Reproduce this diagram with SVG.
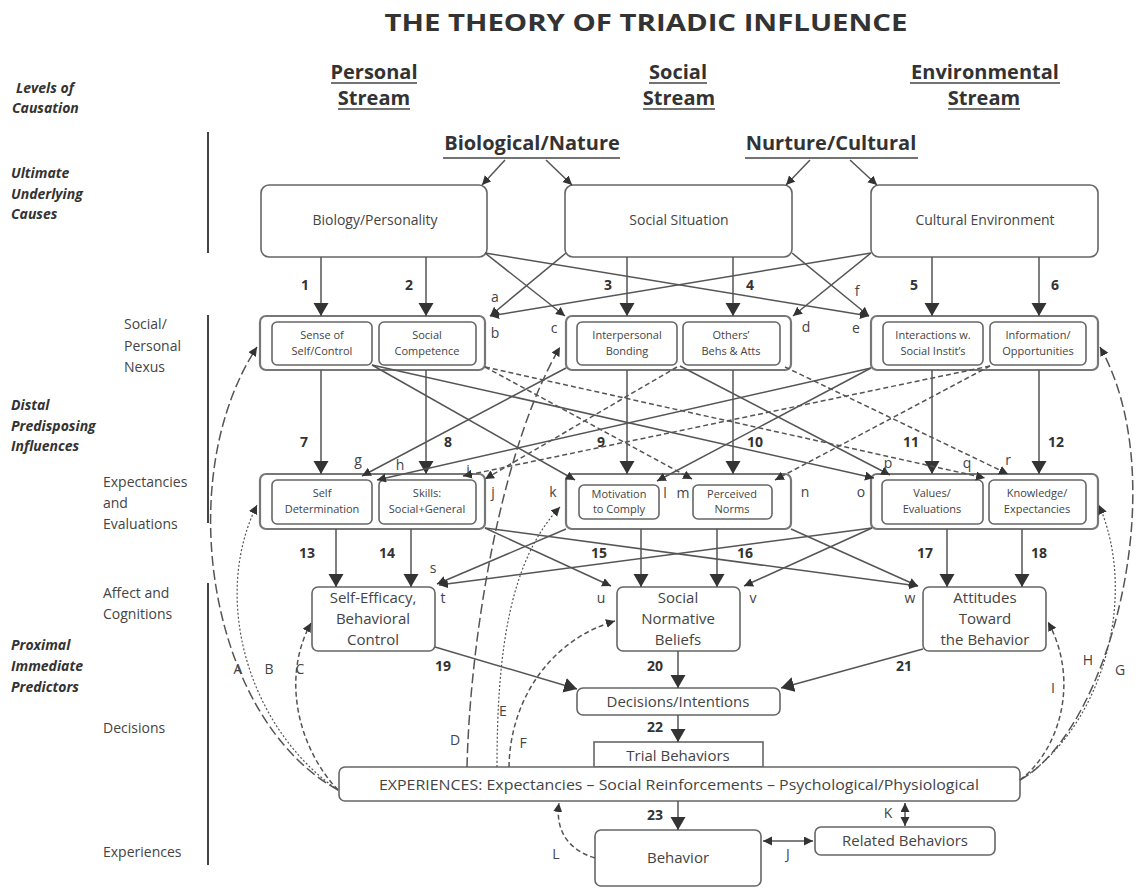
<svg xmlns="http://www.w3.org/2000/svg" width="1138" height="888" viewBox="0 0 1138 888">
<style>
text{font-family:"Open Sans","Liberation Sans",sans-serif;fill:#333}
.lab{font-size:14px;font-weight:bold;font-style:italic}
.lvl{font-size:14px;fill:#444}
.hdr{font-size:20px;font-weight:bold;text-anchor:middle}
.ul{stroke:#444;stroke-width:1.3}
.box{fill:#fff;stroke:#666;stroke-width:1.6}
.obox{fill:#fff;stroke:#777;stroke-width:2.2}
.bt{font-size:14px;text-anchor:middle;fill:#444}
.pt{font-size:15px;text-anchor:middle;fill:#444}
.st{font-size:11px;text-anchor:middle;fill:#444}
.num{font-size:14px;font-weight:bold;text-anchor:middle}
.let{font-size:14px;text-anchor:middle;fill:#444}
.ln{stroke:#555;stroke-width:1.5;fill:none}
.main{marker-end:url(#big)}
.x{marker-end:url(#sm)}
.dash{stroke-dasharray:5 3}
.ldash{stroke-dasharray:10 4}
.dot{stroke-dasharray:2 2;stroke-width:1.2}
.vb{stroke:#444;stroke-width:2}
</style>
<defs>
<marker id="big" markerWidth="16" markerHeight="16" refX="13" refY="7.5" orient="auto" markerUnits="userSpaceOnUse"><path d="M0,0 L13,7.5 L0,15 z" fill="#333"/></marker>
<marker id="sm" markerWidth="12" markerHeight="10" refX="9" refY="4.5" orient="auto-start-reverse" markerUnits="userSpaceOnUse"><path d="M0,0 L9,4.5 L0,9 z" fill="#333"/></marker>
</defs>
<rect width="1138" height="888" fill="#fff"/>

<g id="title"><text x="646" y="31" font-size="24" font-weight="bold" text-anchor="middle" textLength="523" lengthAdjust="spacingAndGlyphs">THE THEORY OF TRIADIC INFLUENCE</text></g>

<g id="levels">
<text class="lab" x="16" y="93">Levels of</text>
<text class="lab" x="12" y="113">Causation</text>
<text class="lab" x="11" y="178">Ultimate</text>
<text class="lab" x="11" y="199">Underlying</text>
<text class="lab" x="11" y="219">Causes</text>
<line class="vb" x1="208" y1="132" x2="208" y2="253"/>
<text class="lvl" x="124" y="329">Social/</text>
<text class="lvl" x="124" y="351">Personal</text>
<text class="lvl" x="124" y="372">Nexus</text>
<text class="lab" x="11" y="410">Distal</text>
<text class="lab" x="11" y="431">Predisposing</text>
<text class="lab" x="11" y="451">Influences</text>
<text class="lvl" x="103" y="487">Expectancies</text>
<text class="lvl" x="103" y="508">and</text>
<text class="lvl" x="103" y="529">Evaluations</text>
<line class="vb" x1="208" y1="315" x2="208" y2="523"/>
<text class="lvl" x="103" y="598">Affect and</text>
<text class="lvl" x="103" y="619">Cognitions</text>
<text class="lab" x="11" y="650">Proximal</text>
<text class="lab" x="11" y="671">Immediate</text>
<text class="lab" x="11" y="692">Predictors</text>
<text class="lvl" x="103" y="733">Decisions</text>
<text class="lvl" x="103" y="857">Experiences</text>
<line class="vb" x1="208" y1="583" x2="208" y2="865"/>
</g>

<g id="streams">
<text class="hdr" x="374" y="79">Personal</text><line class="ul" x1="331" y1="83" x2="417" y2="83"/>
<text class="hdr" x="374" y="105">Stream</text><line class="ul" x1="338" y1="109" x2="410" y2="109"/>
<text class="hdr" x="678" y="79">Social</text><line class="ul" x1="649" y1="83" x2="707" y2="83"/>
<text class="hdr" x="679" y="105">Stream</text><line class="ul" x1="643" y1="109" x2="715" y2="109"/>
<text class="hdr" x="985" y="79">Environmental</text><line class="ul" x1="910" y1="83" x2="1060" y2="83"/>
<text class="hdr" x="984" y="105">Stream</text><line class="ul" x1="948" y1="109" x2="1020" y2="109"/>
</g>

<g id="biological-nature"><text class="hdr" x="532" y="150" font-size="19">Biological/Nature</text><line class="ul" x1="443" y1="158" x2="620" y2="158"/></g>
<g id="nurture-cultural"><text class="hdr" x="831" y="150" font-size="19">Nurture/Cultural</text><line class="ul" x1="745" y1="158" x2="918" y2="158"/></g>

<g id="biology-personality"><rect class="box" x="261" y="185" width="226" height="72" rx="8"/><text class="bt" x="375" y="225">Biology/Personality</text></g>
<g id="social-situation"><rect class="box" x="565" y="185" width="227" height="72" rx="8"/><text class="bt" x="679" y="225">Social Situation</text></g>
<g id="cultural-environment"><rect class="box" x="871" y="185" width="227" height="72" rx="8"/><text class="bt" x="985" y="225">Cultural Environment</text></g>

<g id="personal-nexus"><rect class="obox" x="260" y="316" width="225" height="54" rx="6"/>
<rect class="box" x="272" y="322" width="100" height="43" rx="5"/><text class="st" x="322" y="339">Sense of</text><text class="st" x="322" y="355">Self/Control</text>
<rect class="box" x="379" y="322" width="97" height="43" rx="5"/><text class="st" x="427" y="339">Social</text><text class="st" x="427" y="355">Competence</text></g>
<g id="social-nexus"><rect class="obox" x="566" y="316" width="225" height="54" rx="6"/>
<rect class="box" x="577" y="322" width="100" height="43" rx="5"/><text class="st" x="627" y="339">Interpersonal</text><text class="st" x="627" y="355">Bonding</text>
<rect class="box" x="683" y="322" width="97" height="43" rx="5"/><text class="st" x="731" y="339">Others’</text><text class="st" x="731" y="355">Behs &amp; Atts</text></g>
<g id="environmental-nexus"><rect class="obox" x="871" y="316" width="227" height="54" rx="6"/>
<rect class="box" x="883" y="322" width="100" height="43" rx="5"/><text class="st" x="933" y="339">Interactions w.</text><text class="st" x="933" y="355">Social Instit’s</text>
<rect class="box" x="990" y="322" width="96" height="43" rx="5"/><text class="st" x="1038" y="339">Information/</text><text class="st" x="1038" y="355">Opportunities</text></g>

<g id="personal-expectancies"><rect class="obox" x="260" y="474" width="225" height="55" rx="6"/>
<rect class="box" x="272" y="480" width="100" height="44" rx="5"/><text class="st" x="322" y="497">Self</text><text class="st" x="322" y="513">Determination</text>
<rect class="box" x="379" y="480" width="97" height="44" rx="5"/><text class="st" x="427" y="497">Skills:</text><text class="st" x="427" y="513">Social+General</text></g>
<g id="social-expectancies"><rect class="obox" x="566" y="474" width="225" height="55" rx="6"/>
<rect class="box" x="579" y="485" width="80" height="34" rx="5"/><text class="st" x="619" y="498">Motivation</text><text class="st" x="619" y="513">to Comply</text>
<rect class="box" x="693" y="485" width="79" height="34" rx="5"/><text class="st" x="732" y="498">Perceived</text><text class="st" x="732" y="513">Norms</text></g>
<g id="environmental-expectancies"><rect class="obox" x="871" y="474" width="227" height="55" rx="6"/>
<rect class="box" x="882" y="480" width="101" height="44" rx="5"/><text class="st" x="932" y="497">Values/</text><text class="st" x="932" y="513">Evaluations</text>
<rect class="box" x="989" y="480" width="97" height="44" rx="5"/><text class="st" x="1037" y="497">Knowledge/</text><text class="st" x="1037" y="513">Expectancies</text></g>

<g id="self-efficacy"><rect class="box" x="312" y="587" width="123" height="64" rx="6"/><text class="pt" x="373" y="603">Self-Efficacy,</text><text class="pt" x="373" y="624">Behavioral</text><text class="pt" x="373" y="645">Control</text></g>
<g id="social-normative-beliefs"><rect class="box" x="617" y="587" width="123" height="64" rx="6"/><text class="pt" x="678" y="603">Social</text><text class="pt" x="678" y="624">Normative</text><text class="pt" x="678" y="645">Beliefs</text></g>
<g id="attitudes"><rect class="box" x="923" y="587" width="123" height="64" rx="6"/><text class="pt" x="985" y="603">Attitudes</text><text class="pt" x="985" y="624">Toward</text><text class="pt" x="985" y="645">the Behavior</text></g>

<g id="decisions-intentions"><rect class="box" x="577" y="688" width="203" height="27" rx="6"/><text class="pt" x="678" y="707">Decisions/Intentions</text></g>
<g id="trial-behaviors"><rect class="box" x="594" y="742" width="169" height="25"/><text class="pt" x="678" y="761">Trial Behaviors</text></g>
<g id="experiences"><rect class="box" x="339" y="767" width="681" height="34" rx="6"/><text class="pt" x="679" y="790" textLength="600" lengthAdjust="spacingAndGlyphs">EXPERIENCES: Expectancies – Social Reinforcements – Psychological/Physiological</text></g>
<g id="behavior"><rect class="box" x="595" y="830" width="166" height="56" rx="6"/><text class="pt" x="678" y="863">Behavior</text></g>
<g id="related-behaviors"><rect class="box" x="815" y="827" width="180" height="28" rx="6"/><text class="pt" x="905" y="846">Related Behaviors</text></g>

<g id="connectors">
<path class="ln x" d="M505 160 L482 185"/>
<path class="ln x" d="M546 160 L572 185"/>
<path class="ln x" d="M810 160 L786 185"/>
<path class="ln x" d="M850 160 L877 185"/>

<path class="ln main" d="M321 257 V316"/>
<path class="ln main" d="M426 257 V316"/>
<path class="ln main" d="M627 257 V316"/>
<path class="ln main" d="M733 257 V316"/>
<path class="ln main" d="M932 257 V316"/>
<path class="ln main" d="M1039 257 V316"/>

<path class="ln x" d="M566 253 L490 316"/>
<path class="ln x" d="M871 253 L490 316"/>
<path class="ln x" d="M485 253 L565 316"/>
<path class="ln x" d="M871 253 L793 316"/>
<path class="ln x" d="M485 253 L869 316"/>
<path class="ln x" d="M792 253 L869 316"/>

<path class="ln main" d="M321 370 V474"/>
<path class="ln main" d="M426 370 V474"/>
<path class="ln main" d="M627 370 V474"/>
<path class="ln main" d="M733 370 V474"/>
<path class="ln main" d="M932 370 V474"/>
<path class="ln main" d="M1039 370 V474"/>

<path class="ln x" d="M566 368 L362 476"/>
<path class="ln x" d="M871 368 L377 480"/>
<path class="ln x dash" d="M990 366 L463 476"/>
<path class="ln x dash" d="M677 367 L485 479"/>
<path class="ln x" d="M372 365 L575 480"/>
<path class="ln x" d="M871 368 L657 481"/>
<path class="ln x dash" d="M485 367 L692 479"/>
<path class="ln x dash" d="M990 366 L775 480"/>
<path class="ln x" d="M372 365 L874 478"/>
<path class="ln x" d="M680 366 L890 475"/>
<path class="ln x dash" d="M485 367 L985 478"/>
<path class="ln x dash" d="M785 367 L1008 474"/>

<path class="ln main" d="M336 529 V587"/>
<path class="ln main" d="M411 529 V587"/>
<path class="ln main" d="M641 529 V587"/>
<path class="ln main" d="M717 529 V587"/>
<path class="ln main" d="M947 529 V587"/>
<path class="ln main" d="M1022 529 V587"/>

<path class="ln x" d="M566 529 L437 584"/>
<path class="ln x" d="M872 528 L439 585"/>
<path class="ln x" d="M485 528 L611 586"/>
<path class="ln x" d="M872 528 L744 586"/>
<path class="ln x" d="M485 528 L918 586"/>
<path class="ln x" d="M791 529 L918 586"/>

<path class="ln main" d="M435 647 L577 689"/>
<path class="ln main" d="M678 651 V688"/>
<path class="ln main" d="M923 649 L781 688"/>
<path class="ln main" d="M678 715 V742"/>
<path class="ln main" d="M678 801 V830"/>

<path class="ln" d="M763 841 H813" marker-start="url(#sm)" marker-end="url(#sm)"/>
<path class="ln" d="M905 803 V826" marker-start="url(#sm)" marker-end="url(#sm)"/>
<path class="ln x dash" d="M595 858 C568 850 555 830 559 803"/>

<path class="ln x ldash" d="M338 790 C210 720 170 480 257 347"/>
<path class="ln x dot" d="M338 790 C250 730 210 600 257 505"/>
<path class="ln x dash" d="M338 790 C300 750 280 680 311 623"/>
<path class="ln x ldash" d="M467 767 C470 640 500 450 560 347"/>
<path class="ln x dot" d="M497 767 C497 650 510 560 560 507"/>
<path class="ln x dash" d="M509 767 C510 700 550 640 615 621"/>
<path class="ln x ldash" d="M1020 780 C1110 730 1175 480 1100 347"/>
<path class="ln x dot" d="M1020 780 C1100 730 1140 600 1099 505"/>
<path class="ln x dash" d="M1020 780 C1060 750 1080 680 1048 622"/>
</g>

<g id="labels">
<text class="num" x="305" y="290">1</text><text class="num" x="409" y="290">2</text><text class="num" x="608" y="290">3</text><text class="num" x="750" y="290">4</text><text class="num" x="914" y="290">5</text><text class="num" x="1055" y="290">6</text>
<text class="num" x="304" y="447">7</text><text class="num" x="448" y="447">8</text><text class="num" x="601" y="447">9</text><text class="num" x="755" y="447">10</text><text class="num" x="911" y="447">11</text><text class="num" x="1056" y="447">12</text>
<text class="num" x="307" y="558">13</text><text class="num" x="387" y="558">14</text><text class="num" x="599" y="558">15</text><text class="num" x="745" y="558">16</text><text class="num" x="925" y="558">17</text><text class="num" x="1039" y="558">18</text>
<text class="num" x="443" y="671">19</text><text class="num" x="655" y="671">20</text><text class="num" x="904" y="671">21</text><text class="num" x="655" y="732">22</text><text class="num" x="655" y="820">23</text>
<text class="let" x="495" y="302">a</text><text class="let" x="495" y="338">b</text><text class="let" x="554" y="333">c</text><text class="let" x="806" y="332">d</text><text class="let" x="856" y="333">e</text><text class="let" x="857" y="296">f</text>
<text class="let" x="358" y="465">g</text><text class="let" x="400" y="470">h</text><text class="let" x="468" y="475">i</text><text class="let" x="493" y="497">j</text><text class="let" x="553" y="497">k</text><text class="let" x="665" y="498">l</text><text class="let" x="683" y="498">m</text><text class="let" x="805" y="497">n</text><text class="let" x="861" y="497">o</text><text class="let" x="888" y="468">p</text><text class="let" x="967" y="468">q</text><text class="let" x="1008" y="465">r</text>
<text class="let" x="433" y="573">s</text><text class="let" x="443" y="603">t</text><text class="let" x="601" y="603">u</text><text class="let" x="753" y="603">v</text><text class="let" x="910" y="603">w</text>
<text class="let" x="238" y="674">A</text><text class="let" x="269" y="674">B</text><text class="let" x="300" y="674">C</text><text class="let" x="455" y="745">D</text><text class="let" x="503" y="716">E</text><text class="let" x="523" y="748">F</text><text class="let" x="1120" y="675">G</text><text class="let" x="1088" y="665">H</text><text class="let" x="1053" y="693">I</text><text class="let" x="788" y="859">J</text><text class="let" x="888" y="818">K</text><text class="let" x="556" y="859">L</text>
</g>
</svg>
